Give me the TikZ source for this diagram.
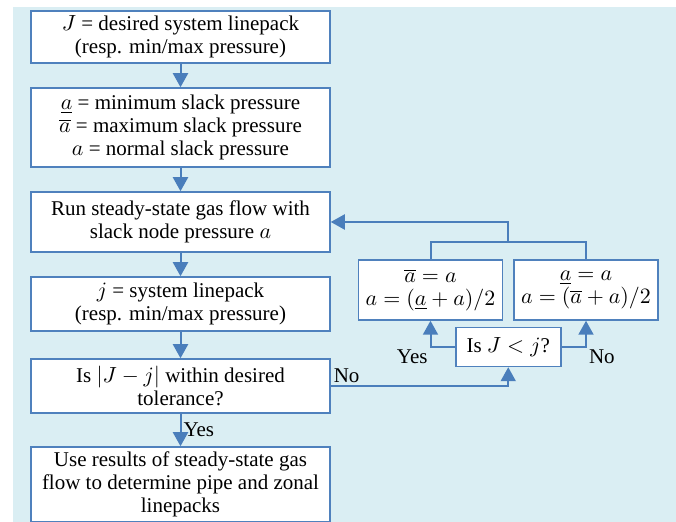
\documentclass[tikz,border=0pt]{standalone}
\usepackage{fontspec}
\setmainfont{Liberation Serif}
\usetikzlibrary{positioning, arrows.meta, calc}
\definecolor{myblue}{HTML}{4F81BD}
\definecolor{myarrow}{HTML}{4A7EBB}
\definecolor{mybg}{HTML}{DAEEF3}

\begin{document}
\begin{tikzpicture}[
    x=0.5pt, y=-0.5pt,
    node distance=11.75pt,
    font=\fontsize{10.5}{11.5}\selectfont,
    stepbox/.style={
      rectangle, draw=myblue, line width=0.75pt,
      fill=white, align=center,
      minimum width=149.5pt, inner sep=2pt
    },
    update/.style={
      rectangle, draw=myblue, line width=0.75pt,
      fill=white, align=center,
      minimum width=72pt, minimum height=30pt, inner sep=2pt
    },
    test/.style={
      rectangle, draw=myblue, line width=0.75pt,
      fill=white, align=center,
      minimum width=52.5pt, minimum height=19.5pt, inner sep=2pt
    },
    arr/.style={-{Triangle[width=7.5pt,length=7pt]}, line width=1pt, color=myarrow},
    link/.style={line width=1pt, color=myarrow},
    lbl/.style={text=black, inner sep=1pt}
  ]
  % Frame and background
  \useasboundingbox (0,0) rectangle (676,522);
  \fill[mybg] (13,7) rectangle (676,522);
  % Target
  \node[stepbox, minimum height=26pt] (target) at (180.5,37) {$J$ = desired system linepack\\(resp. min/max pressure)};
  % Slack bounds
  \node[stepbox, minimum height=39.5pt, below=of target] (bounds) {$\underline{a}$ = minimum slack pressure\\$\overline{a}$ = maximum slack pressure\\$a$ = normal slack pressure};
  % Steady-state run
  \node[stepbox, minimum height=30pt, below=of bounds] (run) {Run steady-state gas flow with\\slack node pressure $a$};
  % System linepack
  \node[stepbox, minimum height=27pt, below=of run] (pack) {$j$ = system linepack\\(resp. min/max pressure)};
  % Tolerance check
  \node[stepbox, minimum height=27pt, below=13.25pt of pack] (tol) {Is $|J-j|$ within desired\\tolerance?};
  % Result
  \node[stepbox, minimum height=37.5pt, below=16.25pt of tol] (use) {Use results of steady-state gas\\flow to determine pipe and zonal\\linepacks};
  % Bisection updates
  \node[update, right=13.5pt of pack.north east, anchor=north west, yshift=8.5pt] (lowerP) {$\overline{a}=a$\\$a=(\underline{a}+a)/2$};
  \node[update, right=5pt of lowerP] (raiseP) {$\underline{a}=a$\\$a=(\overline{a}+a)/2$};
  % Comparison
  \node[test, below=3pt of $(lowerP.south east)!0.5!(raiseP.south west)$] (cmp) {Is $J<j$?};
  \coordinate (merge) at ([yshift=8.5pt]$(lowerP.north)!0.5!(raiseP.north)$);
  % Main flow
  \draw[arr] (target) -- (bounds);
  \draw[arr] (bounds) -- (run);
  \draw[arr] (run) -- (pack);
  \draw[arr] (pack) -- (tol);
  \draw[arr] (tol) -- node[right, lbl]{Yes} (use);
  % Loop back
  \draw[arr] (tol.east) -| node[pos=0, above right, lbl]{No} (cmp.south);
  \draw[arr] (cmp.west) -| node[pos=0.5, below left, lbl]{Yes} (lowerP.south);
  \draw[arr] (cmp.east) -| node[pos=0.5, below right, lbl]{No} (raiseP.south);
  \draw[link] (lowerP.north) |- (merge) -| (raiseP.north);
  \draw[arr] (merge) |- (run.east);
\end{tikzpicture}
\end{document}
